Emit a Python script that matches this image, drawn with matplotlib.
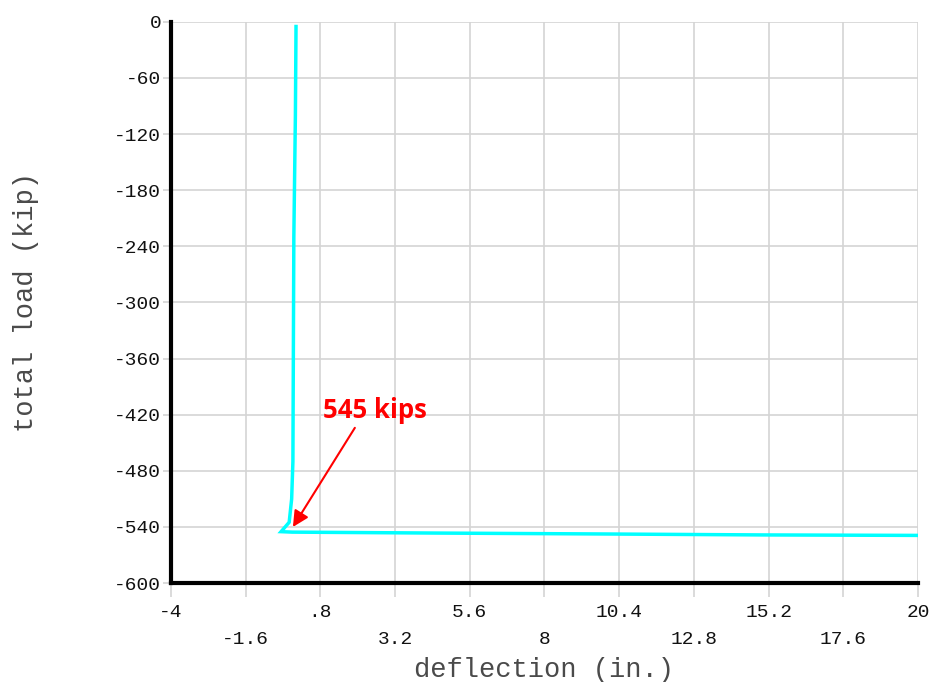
import matplotlib.pyplot as plt
from matplotlib.transforms import ScaledTranslation

# load-deflection curve
deflection = [0.02, 0.0, -0.05, -0.08, -0.12, -0.2, -0.46, -0.1, 4.5, 10.0, 15.0, 20.0]
total_load = [-5, -100, -230, -470, -510, -535, -545, -545.5, -546.5, -547.5, -548.5, -549]

x_ticks = [-4, -1.6, 0.8, 3.2, 5.6, 8, 10.4, 12.8, 15.2, 17.6, 20]
x_labels = ['-4', '-1.6', '.8', '3.2', '5.6', '8', '10.4', '12.8', '15.2', '17.6', '20']
y_ticks = [-600, -540, -480, -420, -360, -300, -240, -180, -120, -60, 0]

peak_text = '545 kips'
peak_xy = (-0.08, -540)
tail_xy = (1.91, -434)
text_xy = (0.88, -423)

mono = ['Liberation Mono', 'DejaVu Sans Mono']
grid_c = '#d4d4d4'

fig = plt.figure(figsize=(9.44, 6.82), dpi=100)
ax = fig.add_axes([0.181, 0.145, 0.7915, 0.823])

ax.plot(deflection, total_load, color='#00ffff', lw=2.5, solid_joinstyle='miter')

ax.set_xlim(-4, 20)
ax.set_ylim(-600, 0)
ax.set_xticks(x_ticks)
# labels alternate on two rows like the original
lbls = [t if i % 2 == 0 else '\n' + t for i, t in enumerate(x_labels)]
ax.set_xticklabels(lbls, family=mono, fontsize=14, linespacing=1.75, color='#111111')
ax.set_yticks(y_ticks)
ax.set_yticklabels([str(v) for v in y_ticks], family=mono, fontsize=14, color='#111111')
# y labels sit just above their gridline
for lab in ax.get_yticklabels():
    lab.set_transform(lab.get_transform() + ScaledTranslation(0, 5 / 72, fig.dpi_scale_trans))

ax.grid(True, color=grid_c, lw=1.2)
ax.set_axisbelow(True)
ax.tick_params(axis='x', length=10, color=grid_c, width=1.2, pad=5)
ax.tick_params(axis='y', length=6, color=grid_c, width=1.2, pad=1)

for s in ['top', 'right']:
    ax.spines[s].set_visible(False)
for s in ['left', 'bottom']:
    ax.spines[s].set_linewidth(3)
    ax.spines[s].set_color('black')

ax.set_xlabel('deflection (in.)', family=mono, fontsize=19.5, color='#4a4a4a')
ax.set_ylabel('total load (kip)', family=mono, fontsize=19.5, color='#4a4a4a')
ax.xaxis.set_label_coords(0.5, -0.132)
ax.yaxis.set_label_coords(-0.176, 0.5)

ax.text(text_xy[0], text_xy[1], peak_text, color='#ff0000', fontsize=18.5,
        fontweight='bold', family=['Open Sans', 'DejaVu Sans'], ha='left', va='baseline')
ax.annotate('', xy=peak_xy, xytext=tail_xy,
            arrowprops=dict(arrowstyle='-|>', color='#ff0000', lw=1.5,
                            mutation_scale=24, shrinkA=0, shrinkB=0))

fig.savefig('out.png', dpi=100)
